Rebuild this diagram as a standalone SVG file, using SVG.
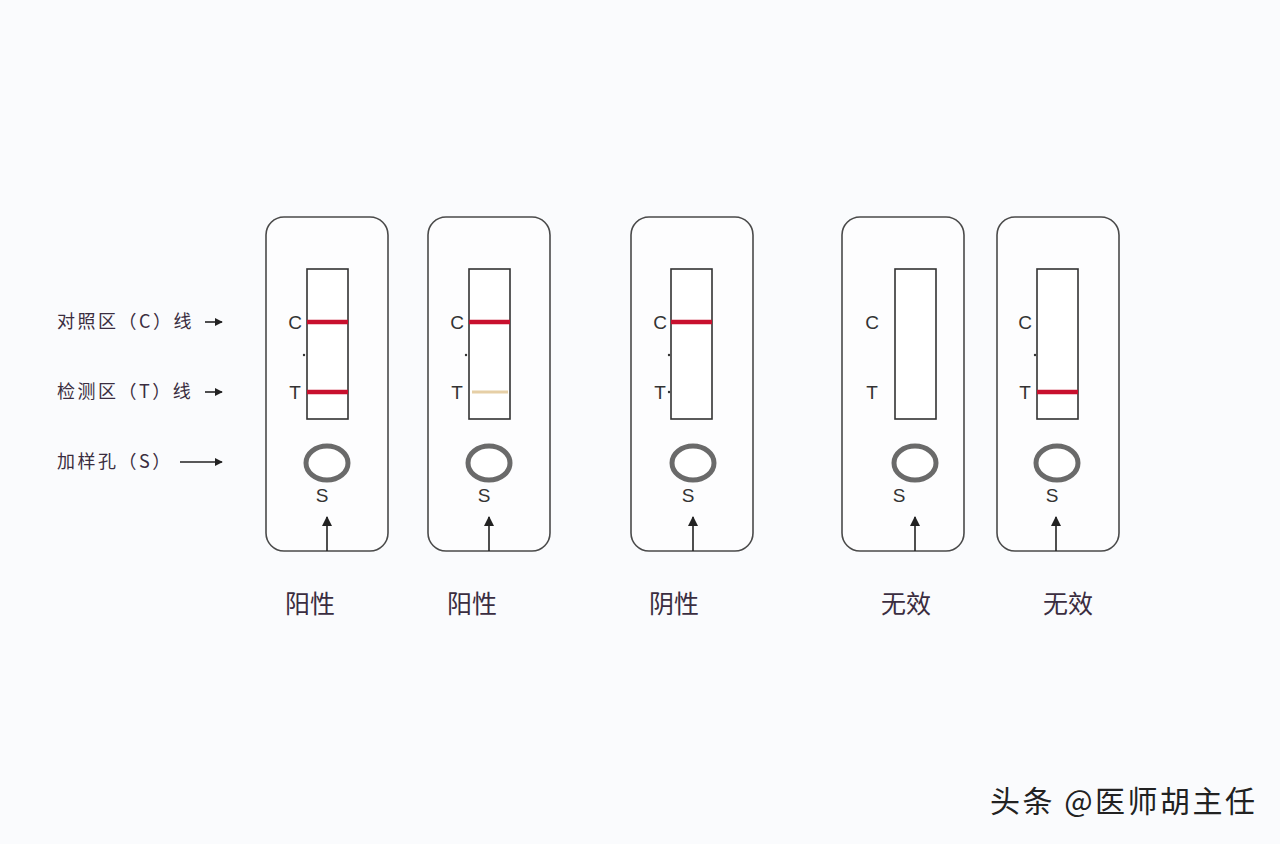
<svg xmlns="http://www.w3.org/2000/svg" width="1280" height="844" viewBox="0 0 1280 844">
<style>
.card{fill:#fdfdfe;stroke:#4a4a4a;stroke-width:1.6}
.win{fill:#ffffff;stroke:#333;stroke-width:1.6}
.ring{fill:#fff;stroke:#6a6a6a;stroke-width:5}
.lt{font-family:"Liberation Sans","Noto Sans",sans-serif;font-size:19px;fill:#333;text-anchor:middle}
.cj{font-family:"Noto Sans CJK SC",sans-serif;fill:#3a2d40}
.red{stroke:#c8102e;stroke-width:4.5}
.faint{stroke:#e6cfa6;stroke-width:3}
.ar{stroke:#222;stroke-width:1.6;fill:none}
</style>
<defs>
<marker id="ah" viewBox="0 0 10 10" refX="9" refY="5" markerWidth="8" markerHeight="8" markerUnits="userSpaceOnUse" orient="auto"><path d="M0,0 L10,5 L0,10 z" fill="#222"/></marker>
<marker id="ah2" viewBox="0 0 10 10" refX="9" refY="5" markerWidth="10" markerHeight="10" markerUnits="userSpaceOnUse" orient="auto"><path d="M0,0 L10,5 L0,10 z" fill="#222"/></marker>
</defs>
<rect x="0" y="0" width="1280" height="844" fill="#fafbfd"/>

<g id="legend">
<text class="cj" x="57" y="328" font-size="18" letter-spacing="2.5">对照区（C）线</text>
<text class="cj" x="57" y="398" font-size="18" letter-spacing="2.5">检测区（T）线</text>
<text class="cj" x="57" y="468" font-size="18" letter-spacing="2.5">加样孔（S）</text>
</g>

<g id="card1">
<rect class="card" x="266" y="217" width="122" height="334" rx="18"/>
<rect class="win" x="307" y="269" width="41" height="150"/>
<line class="red" x1="307" y1="322" x2="348" y2="322"/>
<line class="red" x1="307" y1="392" x2="348" y2="392"/>
<circle cx="304" cy="355" r="1.2" fill="#333"/>
<text class="lt" x="295" y="329">C</text>
<text class="lt" x="295" y="399">T</text>
<ellipse class="ring" cx="327" cy="463" rx="21" ry="17"/>
<text class="lt" x="322" y="502" font-size="17">S</text>
<text class="cj" x="310" y="613" font-size="25" text-anchor="middle">阳性</text>
</g>

<g id="card2">
<rect class="card" x="428" y="217" width="122" height="334" rx="18"/>
<rect class="win" x="469" y="269" width="41" height="150"/>
<line class="red" x1="469" y1="322" x2="510" y2="322"/>
<line class="faint" x1="472" y1="392" x2="508" y2="392"/>
<circle cx="466" cy="355" r="1.2" fill="#333"/>
<text class="lt" x="457" y="329">C</text>
<text class="lt" x="457" y="399">T</text>
<ellipse class="ring" cx="489" cy="463" rx="21" ry="17"/>
<text class="lt" x="484" y="502" font-size="17">S</text>
<text class="cj" x="472" y="613" font-size="25" text-anchor="middle">阳性</text>
</g>

<g id="card3">
<rect class="card" x="631" y="217" width="122" height="334" rx="18"/>
<rect class="win" x="671" y="269" width="41" height="150"/>
<line class="red" x1="671" y1="322" x2="712" y2="322"/>
<circle cx="669" cy="355" r="1.2" fill="#333"/>
<circle cx="669" cy="392" r="1.2" fill="#333"/>
<text class="lt" x="660" y="329">C</text>
<text class="lt" x="660" y="399">T</text>
<ellipse class="ring" cx="693" cy="463" rx="21" ry="17"/>
<text class="lt" x="688" y="502" font-size="17">S</text>
<text class="cj" x="674" y="613" font-size="25" text-anchor="middle">阴性</text>
</g>

<g id="card4">
<rect class="card" x="842" y="217" width="122" height="334" rx="18"/>
<rect class="win" x="895" y="269" width="41" height="150"/>
<text class="lt" x="872" y="329">C</text>
<text class="lt" x="872" y="399">T</text>
<ellipse class="ring" cx="915" cy="463" rx="21" ry="17"/>
<text class="lt" x="899" y="502" font-size="17">S</text>
<text class="cj" x="906" y="613" font-size="25" text-anchor="middle">无效</text>
</g>

<g id="card5">
<rect class="card" x="997" y="217" width="122" height="334" rx="18"/>
<rect class="win" x="1037" y="269" width="41" height="150"/>
<line class="red" x1="1037" y1="392" x2="1078" y2="392"/>
<circle cx="1035" cy="355" r="1.2" fill="#333"/>
<text class="lt" x="1025" y="329">C</text>
<text class="lt" x="1025" y="399">T</text>
<ellipse class="ring" cx="1057" cy="463" rx="21" ry="17"/>
<text class="lt" x="1052" y="502" font-size="17">S</text>
<text class="cj" x="1068" y="613" font-size="25" text-anchor="middle">无效</text>
</g>

<g id="connectors">
<line class="ar" x1="205" y1="322" x2="222" y2="322" marker-end="url(#ah)"/>
<line class="ar" x1="205" y1="392" x2="222" y2="392" marker-end="url(#ah)"/>
<line class="ar" x1="180" y1="462" x2="222" y2="462" marker-end="url(#ah)"/>
<line class="ar" x1="327" y1="551" x2="327" y2="517" marker-end="url(#ah2)"/>
<line class="ar" x1="489" y1="551" x2="489" y2="517" marker-end="url(#ah2)"/>
<line class="ar" x1="693" y1="551" x2="693" y2="517" marker-end="url(#ah2)"/>
<line class="ar" x1="915" y1="551" x2="915" y2="517" marker-end="url(#ah2)"/>
<line class="ar" x1="1056" y1="551" x2="1056" y2="517" marker-end="url(#ah2)"/>
</g>

<g id="watermark">
<text class="cj" x="990" y="812" font-size="30" letter-spacing="2.5" style="fill:#222">头条 @医师胡主任</text>
</g>
</svg>
